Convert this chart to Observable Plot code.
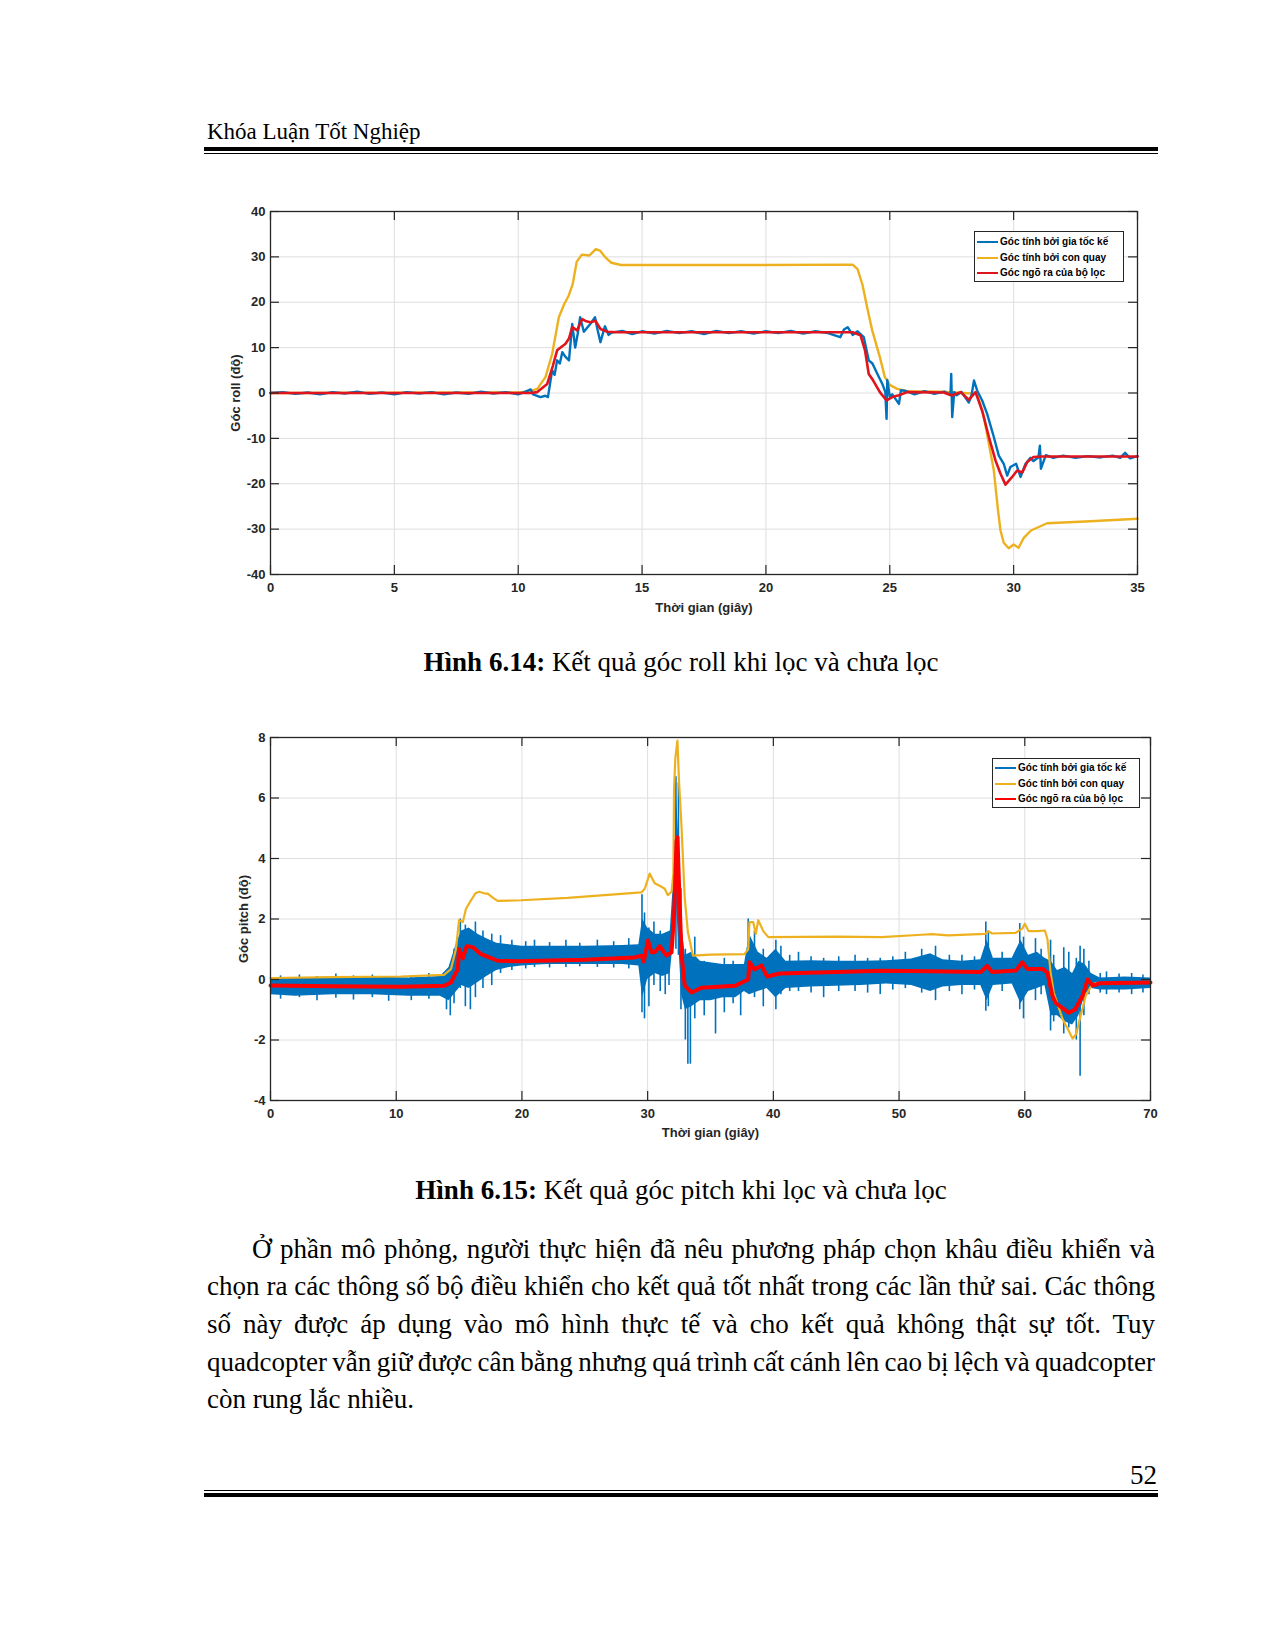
<!DOCTYPE html>
<html><head><meta charset="utf-8">
<script src="https://cdn.jsdelivr.net/npm/d3@7"></script>
<script src="https://cdn.jsdelivr.net/npm/@observablehq/plot@0.6"></script>
<style>
body{margin:0;background:#fff;}
#page{position:relative;width:1275px;height:1650px;overflow:hidden;background:#fff;font-family:"Liberation Serif","Times New Roman",serif;color:#000;}
.t{position:absolute;line-height:1;white-space:nowrap;}
.bar{position:absolute;background:#000;}
.chart{position:absolute;left:0;}
.legend{position:absolute;border:1px solid #262626;background:#fff;font-family:"Liberation Sans",Arial,sans-serif;font-weight:bold;font-size:10px;color:#000;}
.legend .row{position:absolute;left:0;height:12px;line-height:12px;white-space:nowrap;}
.legend .sw{position:absolute;left:2px;top:5px;width:21px;height:2px;}
.legend .lb{position:absolute;left:25px;top:0;}
.para{position:absolute;left:207px;width:948px;font-size:27px;line-height:27px;text-align:justify;text-align-last:justify;white-space:normal;}
</style>
</head><body><div id="page"></div>
<script>
// ---------- shared ----------
const legendLabels = ["Góc tính bởi gia tốc kế", "Góc tính bởi con quay", "Góc ngõ ra của bộ lọc"];
const headerText = "Khóa Luận Tốt Nghiệp";
const caption1Bold = "Hình 6.14:", caption1Rest = " Kết quả góc roll khi lọc và chưa lọc";
const caption2Bold = "Hình 6.15:", caption2Rest = " Kết quả góc pitch khi lọc và chưa lọc";
const paraLines = [
  "Ở phần mô phỏng, người thực hiện đã nêu phương pháp chọn khâu điều khiển và",
  "chọn ra các thông số bộ điều khiển cho kết quả tốt nhất trong các lần thử sai. Các thông",
  "số này được áp dụng vào mô hình thực tế và cho kết quả không thật sự tốt. Tuy",
  "quadcopter vẫn giữ được cân bằng nhưng quá trình cất cánh lên cao bị lệch và quadcopter",
  "còn rung lắc nhiều."
];
const pageNumber = "52";

// ---------- chart 1 : roll ----------
const rollXTicks = [0, 5, 10, 15, 20, 25, 30, 35];
const rollYTicks = [-40, -30, -20, -10, 0, 10, 20, 30, 40];
const rollXLabel = "Thời gian (giây)";
const rollYLabel = "Góc roll (độ)";

const rollGyroT = [0, 10, 10.5, 10.77, 11.1, 11.37, 11.64, 11.85, 12.04, 12.2, 12.36, 12.57, 12.87, 13.13, 13.3, 13.5, 13.76, 14.15, 20, 23.5, 23.7, 23.9, 24.1, 24.29, 24.6, 24.8, 25.0, 25.3, 25.7, 27.1, 28.0, 28.53, 28.8, 29.0, 29.2, 29.37, 29.47, 29.6, 29.8, 30.0, 30.2, 30.4, 30.7, 31.35, 33.1, 35];
const rollGyroV = [0, 0.1, 0.4, 0.9, 3.5, 8.6, 16.7, 19.5, 21.5, 24, 28.9, 30.5, 30.3, 31.7, 31.4, 30, 28.7, 28.2, 28.2, 28.3, 27.3, 23.8, 18.5, 13.8, 7.9, 3.5, 1.8, 0.9, 0.4, 0.3, 0, -0.2, -5.3, -11.2, -17.1, -25.9, -30.3, -33, -34.2, -33.4, -34.1, -32, -30.3, -28.7, -28.25, -27.7];

const rollFiltT = [0, 10.5, 10.77, 11.17, 11.4, 11.57, 11.75, 11.9, 12.05, 12.18, 12.38, 12.58, 12.75, 12.92, 13.12, 13.32, 13.6, 14, 23.5, 23.82, 24.0, 24.15, 24.29, 24.6, 24.87, 25.1, 25.37, 25.7, 27.18, 27.5, 27.86, 28.19, 28.46, 28.73, 29.0, 29.27, 29.47, 29.67, 29.94, 30.14, 30.35, 30.55, 30.8, 31.09, 35];
const rollFiltV = [0, 0, 0.2, 2.0, 6.0, 9.4, 10.2, 10.8, 12.0, 14.5, 13.8, 16.3, 15.8, 15.6, 15.9, 14.1, 13.5, 13.4, 13.4, 12.7, 9.4, 4.2, 3.1, 0.2, -1.65, -0.9, -0.5, 0.2, 0.1, -0.55, 0.2, -1.5, 0.2, -3.9, -9.7, -14.9, -17.8, -20.2, -18.5, -17.1, -17.5, -15.2, -14.1, -14.0, -14.0];

const rollAccT = [0, 0.5, 1, 1.5, 2, 2.5, 3, 3.5, 4, 4.5, 5, 5.5, 6, 6.5, 7, 7.5, 8, 8.5, 9, 9.5, 10, 10.3, 10.5, 10.6, 10.9, 11.1, 11.2, 11.37, 11.47, 11.57, 11.68, 11.78, 11.9, 12.05, 12.18, 12.3, 12.4, 12.5, 12.65, 12.8, 12.95, 13.1, 13.2, 13.32, 13.5, 13.65, 13.77, 14.2, 14.6, 15, 15.5, 16, 16.5, 17, 17.5, 18, 18.5, 19, 19.5, 20, 20.5, 21, 21.5, 22, 22.5, 23.0, 23.15, 23.3, 23.5, 23.7, 23.95, 24.15, 24.3, 24.5, 24.7, 24.82, 24.87, 24.9, 25.0, 25.1, 25.37, 25.45, 25.6, 26, 26.4, 26.8, 27.2, 27.45, 27.48, 27.52, 27.6, 27.7, 27.9, 28.19, 28.3, 28.4, 28.53, 28.73, 28.93, 29.2, 29.4, 29.6, 29.74, 29.87, 30.1, 30.28, 30.48, 30.68, 30.8, 31.0, 31.06, 31.1, 31.3, 31.6, 32, 32.5, 33, 33.5, 34, 34.3, 34.5, 34.7, 35];
const rollAccV = [0, 0.2, -0.2, 0.1, -0.3, 0.2, -0.1, 0.3, -0.2, 0.1, -0.3, 0.2, -0.1, 0.2, -0.3, 0.1, -0.2, 0.3, -0.1, 0.2, -0.3, 0.3, 0.8, -0.3, -0.9, -0.6, -0.9, 5, 4, 7.2, 6.5, 9.0, 8.0, 7.2, 15.2, 10, 13, 16.7, 13.5, 14.5, 15.5, 16.7, 14, 11.2, 14.7, 12.8, 13.3, 13.7, 13.0, 13.6, 13.1, 13.7, 13.2, 13.6, 13.0, 13.7, 13.2, 13.6, 13.1, 13.6, 13.2, 13.7, 13.1, 13.6, 13.2, 12.3, 14.0, 14.5, 12.8, 13.6, 12.3, 7.2, 6.5, 4.2, 2.0, 0.2, -5.7, 2.9, -0.8, -0.3, -2.4, 0.6, 0.5, -0.3, 0.4, -0.2, 0.3, -0.4, 4.2, -5.3, 0.2, -0.5, 0.2, -2.1, -0.5, 2.75, 0.5, -1.65, -4.6, -9.7, -13.8, -15.6, -18.2, -16.3, -15.6, -18.5, -15.6, -14.3, -15.0, -14.2, -11.6, -16.7, -13.7, -14.3, -13.8, -14.3, -13.9, -14.2, -13.8, -14.3, -13.2, -14.4, -13.9];

// ---------- chart 2 : pitch ----------
const pitchXTicks = [0, 10, 20, 30, 40, 50, 60, 70];
const pitchYTicks = [-4, -2, 0, 2, 4, 6, 8];
const pitchXLabel = "Thời gian (giây)";
const pitchYLabel = "Góc pitch (độ)";

const pitchGyroT = [0, 5, 10.36, 13.8, 14.35, 14.75, 15.0, 15.3, 15.55, 15.95, 16.3, 16.6, 17.0, 17.28, 17.7, 18.07, 19.93, 23.65, 29.5, 29.77, 30.16, 30.56, 30.96, 31.36, 31.6, 31.9, 32.05, 32.1, 32.2, 32.37, 32.5, 32.69, 32.95, 33.2, 33.6, 35, 37.7, 38.0, 38.1, 38.4, 38.6, 38.8, 39.2, 39.6, 45, 48.6, 51.8, 52.6, 53.9, 56.87, 57.1, 57.4, 59.26, 59.8, 60.0, 60.3, 61.0, 61.6, 61.8, 62.05, 62.3, 63.0, 63.5, 63.8, 64.1, 64.3, 64.85, 65.2, 65.6, 70];
const pitchGyroV = [0.05, 0.08, 0.1, 0.15, 0.34, 1.0, 1.96, 1.9, 2.34, 2.62, 2.85, 2.9, 2.85, 2.84, 2.7, 2.6, 2.62, 2.7, 2.88, 3.0, 3.5, 3.18, 3.1, 3.0, 2.79, 2.9, 3.5, 6.3, 7.3, 7.9, 6.5, 5.1, 2.7, 1.57, 0.79, 0.82, 0.84, 1.0, 1.9, 1.9, 1.5, 1.96, 1.6, 1.4, 1.42, 1.4, 1.48, 1.5, 1.46, 1.51, 1.6, 1.52, 1.54, 1.68, 1.84, 1.6, 1.6, 1.62, 1.34, 0.23, -0.43, -1.3, -1.7, -1.95, -1.8, -1.43, -0.54, -0.27, -0.12, -0.08];

const pitchFiltT = [0, 5, 10.36, 13.8, 14.35, 14.9, 15.0, 15.3, 15.6, 16.1, 16.7, 17.3, 18.07, 19.67, 25, 28.97, 29.5, 29.7, 30.03, 30.3, 30.56, 30.96, 31.5, 31.9, 32.1, 32.3, 32.37, 32.55, 32.7, 32.95, 33.5, 34.3, 36.94, 38.0, 38.1, 38.5, 39.07, 39.5, 40.5, 45, 48.6, 52.6, 56.5, 57.0, 57.4, 59.3, 59.8, 60.2, 61.4, 61.8, 62.2, 62.45, 62.85, 63.5, 64.0, 64.6, 65.0, 65.4, 66, 70];
const pitchFiltV = [-0.2, -0.22, -0.24, -0.21, -0.1, 0.34, 1.0, 0.7, 1.1, 1.07, 0.85, 0.75, 0.62, 0.6, 0.65, 0.73, 0.79, 0.6, 1.29, 0.9, 0.9, 1.1, 0.79, 0.9, 2.1, 4.57, 4.7, 2.44, 0.8, -0.2, -0.43, -0.27, -0.21, 0.0, 0.57, 0.33, 0.46, 0.1, 0.2, 0.25, 0.29, 0.27, 0.25, 0.45, 0.25, 0.3, 0.57, 0.35, 0.35, 0.23, -0.54, -0.77, -0.9, -1.1, -0.99, -0.54, 0.0, -0.2, -0.12, -0.1];

// accelerometer: noise envelope (low / high) and individual spikes
const pitchAccBandT  = [0, 2, 5, 8, 11, 13.5, 14.2, 14.8, 15.2, 15.8, 16.5, 17.2, 18, 19, 20, 22, 25, 28, 29.3, 29.6, 30, 30.6, 31.2, 31.8, 32.1, 32.3, 32.5, 32.7, 33.0, 33.5, 34.2, 35, 36, 37, 37.7, 38.1, 38.8, 39.5, 40.2, 41, 43, 45, 47, 49, 51, 52.5, 53.5, 55, 56.5, 57, 57.5, 59, 59.7, 60.3, 61, 61.6, 62.1, 62.6, 63.2, 63.8, 64.3, 64.8, 65.3, 66, 68, 70];
const pitchAccBandLo = [-0.5, -0.55, -0.5, -0.5, -0.55, -0.55, -0.7, -0.4, -0.2, -0.3, -0.1, 0.1, 0.3, 0.4, 0.45, 0.5, 0.5, 0.5, 0.45, -0.6, 0.0, 0.2, 0.1, 0.2, 1.5, 2.5, 1.0, -0.5, -1.0, -0.9, -0.7, -0.7, -0.6, -0.6, -0.4, -0.5, -0.4, -0.3, -0.6, -0.3, -0.25, -0.22, -0.2, -0.15, -0.2, -0.4, -0.25, -0.2, -0.2, -0.7, -0.2, -0.15, -0.8, -0.4, -0.3, -0.2, -1.2, -1.2, -1.4, -1.5, -1.2, -0.5, -0.3, -0.35, -0.35, -0.3];
const pitchAccBandHi = [0.05, 0.05, 0.08, 0.08, 0.05, 0.1, 0.4, 1.2, 1.6, 1.7, 1.5, 1.35, 1.2, 1.15, 1.1, 1.1, 1.1, 1.12, 1.15, 2.0, 1.7, 1.5, 1.5, 1.6, 3.5, 6.0, 4.5, 1.8, 0.8, 0.9, 0.6, 0.55, 0.5, 0.5, 0.5, 1.5, 0.9, 0.7, 1.0, 0.6, 0.62, 0.6, 0.6, 0.62, 0.68, 0.85, 0.65, 0.6, 0.65, 1.3, 0.7, 0.7, 1.3, 0.8, 0.9, 0.7, 0.6, 0.3, 0.4, 0.2, 0.6, 0.5, 0.2, 0.05, 0.08, 0.05];

const pitchSpikeT  = [0.8, 2.3, 3.7, 5.2, 6.6, 8.1, 9.4, 11.2, 12.6, 14.0, 14.3, 14.6, 15.1, 15.5, 15.9, 16.3, 16.9, 17.6, 18.3, 19.2, 20.3, 21.0, 22.2, 23.5, 24.6, 26.0, 27.3, 28.5, 29.55, 29.75, 30.1, 30.5, 31.0, 31.4, 31.7, 32.25, 32.45, 32.65, 33.0, 33.2, 33.4, 33.75, 34.5, 35.4, 36.1, 36.8, 37.4, 38.0, 38.5, 39.2, 40.2, 40.6, 41.3, 42.0, 43.0, 44.0, 45.2, 46.5, 47.5, 48.5, 49.5, 50.5, 51.8, 52.9, 54.0, 55.0, 56.0, 56.9, 57.1, 58.2, 59.6, 59.9, 60.85, 61.3, 62.05, 62.3, 63.1, 63.5, 64.1, 64.4, 64.7, 65.1, 66.0, 66.5, 67.5, 68.5, 69.4];
const pitchSpikeLo = [-0.65, -0.6, -0.7, -0.62, -0.68, -0.6, -0.72, -0.7, -0.65, -1.0, -1.2, -0.8, -0.3, -0.9, -1.0, -0.6, -0.3, -0.2, 0.2, 0.3, 0.35, 0.4, 0.38, 0.4, 0.42, 0.4, 0.38, 0.35, -1.1, -1.3, -0.9, -0.2, -0.4, -0.5, -0.2, 1.0, 0.8, -1.0, -2.0, -2.8, -2.8, -1.3, -1.2, -1.8, -1.1, -0.8, -1.2, -0.4, -0.6, -0.9, -1.0, -0.5, -0.4, -0.4, -0.45, -0.6, -0.4, -0.4, -0.45, -0.5, -0.35, -0.3, -0.45, -0.7, -0.4, -0.5, -0.35, -1.05, -0.9, -0.4, -1.0, -1.3, -0.7, -0.5, -1.7, -1.4, -1.8, -1.6, -2.0, -3.2, -1.2, -0.5, -0.45, -0.5, -0.45, -0.5, -0.45];
const pitchSpikeHi = [0.12, 0.15, 0.1, 0.18, 0.12, 0.15, 0.1, 0.12, 0.2, 0.2, 0.5, 1.0, 2.0, 1.8, 1.5, 1.9, 1.6, 1.5, 1.45, 1.3, 1.25, 1.3, 1.22, 1.3, 1.2, 1.3, 1.25, 1.35, 2.8, 2.2, 1.7, 1.9, 1.6, 1.3, 1.5, 6.7, 6.5, 3.0, 1.0, 0.6, 0.4, 1.4, 0.6, 0.5, 0.7, 0.6, 0.5, 2.0, 1.6, 1.0, 1.3, 1.1, 0.8, 0.9, 0.75, 0.7, 0.75, 0.8, 0.7, 0.7, 0.75, 0.9, 1.0, 1.1, 0.8, 0.8, 0.75, 1.9, 1.6, 0.9, 1.85, 1.4, 1.35, 1.0, 1.3, 0.8, 1.05, 0.9, 0.7, 1.1, 1.0, 0.6, 0.2, 0.25, 0.18, 0.2, 0.15];

// ---------- drawing ----------
const BLUE = "#0072BD", YELLOW = "#EDB120", RED1 = "#e0141c", RED2 = "#ff0000", AX = "#262626";
const page = document.getElementById("page");
const idx = n => d3.range(n);

function el(tag, cls, css, txt) {
  const e = document.createElement(tag);
  if (cls) e.className = cls;
  Object.assign(e.style, css || {});
  if (txt !== undefined) e.textContent = txt;
  page.appendChild(e);
  return e;
}
// place text by baseline (Liberation Serif: baseline ≈ top + 0.8375·fs with line-height 1)
function textAt(str, x, base, fs, extra) {
  return el("div", "t", Object.assign({left: x + "px", top: (base - 0.8375 * fs) + "px", fontSize: fs + "px"}, extra || {}), str);
}

// header
textAt(headerText, 207, 139, 23);
el("div", "bar", {left: "204px", width: "954px", top: "147px", height: "4px"});
el("div", "bar", {left: "204px", width: "954px", top: "153px", height: "1.3px"});

function makeChart(c) {
  const pw = c.W - c.mL - c.mR, ph = c.H - c.mT - c.mB;
  const svg = Plot.plot({
    width: c.W, height: c.H,
    marginLeft: c.mL, marginRight: c.mR, marginTop: c.mT, marginBottom: c.mB,
    x: {domain: c.xDom}, y: {domain: c.yDom},
    style: {fontFamily: "'Liberation Sans', Arial, sans-serif", fontSize: "13px", fontWeight: "bold", color: AX, background: "transparent", overflow: "visible"},
    marks: [
      Plot.gridX(c.xTicks, {stroke: "#dedede", strokeOpacity: 1, strokeWidth: 1}),
      Plot.gridY(c.yTicks, {stroke: "#dedede", strokeOpacity: 1, strokeWidth: 1}),
      ...c.marks,
      Plot.tickX(c.xTicks, {x: d => d, insetTop: ph - 9, stroke: AX, strokeWidth: 1.2}),
      Plot.tickX(c.xTicks, {x: d => d, insetBottom: ph - 9, stroke: AX, strokeWidth: 1.2}),
      Plot.tickY(c.yTicks, {y: d => d, insetRight: pw - 9, stroke: AX, strokeWidth: 1.2}),
      Plot.tickY(c.yTicks, {y: d => d, insetLeft: pw - 9, stroke: AX, strokeWidth: 1.2}),
      Plot.axisX(c.xTicks, {tickSize: 0, tickPadding: c.xPad, tickFormat: d => String(d), label: null}),
      Plot.axisY(c.yTicks, {tickSize: 0, tickPadding: 5, tickFormat: d => String(d), label: null}),
      Plot.frame({stroke: AX, strokeWidth: 1.3}),
      Plot.text([c.xLabel], {text: d => d, frameAnchor: "bottom", dy: c.xLabelDy, textAnchor: "middle", lineAnchor: "middle", fill: AX}),
      Plot.text([c.yLabel], {text: d => d, frameAnchor: "left", dx: c.yLabelDx, rotate: -90, textAnchor: "middle", lineAnchor: "middle", fill: AX})
    ]
  });
  svg.classList.add("chart");
  svg.style.top = c.top + "px";
  page.appendChild(svg);
}

function legend(x, y, w, h, rows, colors) {
  const box = el("div", "legend", {left: x + "px", top: y + "px", width: w + "px", height: h + "px"});
  legendLabels.forEach((lab, i) => {
    const r = document.createElement("div");
    r.className = "row";
    r.style.top = (rows[i] - 6) + "px";
    r.style.width = w + "px";
    const sw = document.createElement("div"); sw.className = "sw"; sw.style.background = colors[i];
    const lb = document.createElement("div"); lb.className = "lb"; lb.textContent = lab;
    r.appendChild(sw); r.appendChild(lb); box.appendChild(r);
  });
}

// chart 1
makeChart({
  top: 170, W: 1275, H: 450, mL: 270, mR: 138, mT: 41, mB: 46,
  xDom: [0, 35], yDom: [-40, 40], xTicks: rollXTicks, yTicks: rollYTicks, xPad: 8,
  xLabel: rollXLabel, yLabel: rollYLabel, xLabelDy: 33, yLabelDx: -35,
  marks: [
    Plot.line(idx(rollGyroT.length), {x: i => rollGyroT[i], y: i => rollGyroV[i], stroke: YELLOW, strokeWidth: 2.4}),
    Plot.line(idx(rollAccT.length), {x: i => rollAccT[i], y: i => rollAccV[i], stroke: BLUE, strokeWidth: 2.4}),
    Plot.line(idx(rollFiltT.length), {x: i => rollFiltT[i], y: i => rollFiltV[i], stroke: RED1, strokeWidth: 2.6})
  ]
});
legend(974, 231, 148, 49, [10, 26, 41], [BLUE, YELLOW, RED1]);

// caption 1
const cap1 = el("div", "t", {left: "207px", width: "948px", textAlign: "center", top: (672 - 0.8375 * 27) + "px", fontSize: "27px"});
cap1.innerHTML = "<b>" + caption1Bold + "</b>" + caption1Rest;

// chart 2
makeChart({
  top: 690, W: 1275, H: 460, mL: 270, mR: 125, mT: 47, mB: 50,
  xDom: [0, 70], yDom: [-4, 8], xTicks: pitchXTicks, yTicks: pitchYTicks, xPad: 8,
  xLabel: pitchXLabel, yLabel: pitchYLabel, xLabelDy: 32, yLabelDx: -27,
  marks: [
    Plot.areaY(idx(pitchAccBandT.length), {x: i => pitchAccBandT[i], y1: i => pitchAccBandLo[i], y2: i => pitchAccBandHi[i], fill: BLUE}),
    Plot.ruleX(idx(pitchSpikeT.length), {x: i => pitchSpikeT[i], y1: i => pitchSpikeLo[i], y2: i => pitchSpikeHi[i], stroke: BLUE, strokeWidth: 1.6}),
    Plot.line(idx(pitchGyroT.length), {x: i => pitchGyroT[i], y: i => pitchGyroV[i], stroke: YELLOW, strokeWidth: 2.2}),
    Plot.line(idx(pitchFiltT.length), {x: i => pitchFiltT[i], y: i => pitchFiltV[i], stroke: RED2, strokeWidth: 4})
  ]
});
legend(992, 758, 146, 48, [9, 25, 40], [BLUE, YELLOW, RED2]);

// caption 2
const cap2 = el("div", "t", {left: "207px", width: "948px", textAlign: "center", top: (1200 - 0.8375 * 27) + "px", fontSize: "27px"});
cap2.innerHTML = "<b>" + caption2Bold + "</b>" + caption2Rest;

// paragraph: each printed line as its own justified block; shrink a line slightly if it would wrap
const paraBase = [1258.5, 1296.1, 1333.7, 1371.3, 1408.9];
paraLines.forEach((s, i) => {
  const d = el("div", "para", {top: (paraBase[i] - 0.8375 * 27) + "px"}, s);
  if (i === 0) { d.style.left = "252px"; d.style.width = "903px"; }
  if (i === paraLines.length - 1) { d.style.textAlignLast = "left"; d.style.textAlign = "left"; }
  let fs = 27, ws = 0;
  while (d.getBoundingClientRect().height > 30 && ws > -4) { ws -= 0.5; d.style.wordSpacing = ws + "px"; }
  while (d.getBoundingClientRect().height > 30 && fs > 24) { fs -= 0.25; d.style.fontSize = fs + "px"; }
});

// page number & footer
el("div", "t", {left: "1057px", width: "100px", textAlign: "right", top: (1485 - 0.8375 * 27) + "px", fontSize: "27px"}, pageNumber);
el("div", "bar", {left: "204px", width: "954px", top: "1490px", height: "1.3px"});
el("div", "bar", {left: "204px", width: "954px", top: "1493px", height: "4px"});
</script>
</body></html>
